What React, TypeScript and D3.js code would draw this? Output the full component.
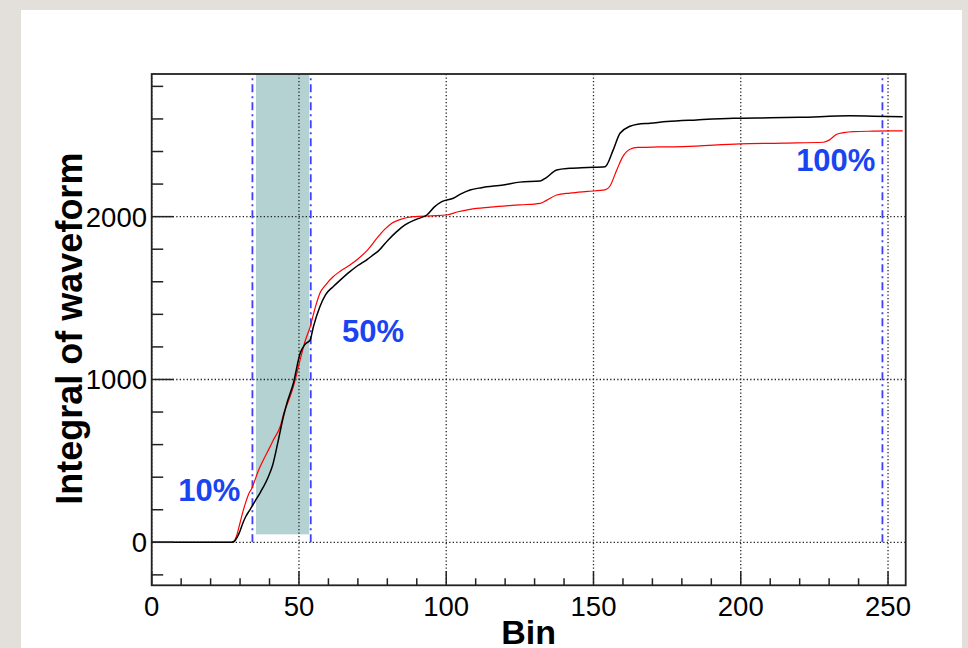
import React from "react";
import * as d3 from "d3";

// ---- data ----
const blackBins = [0, 10, 20, 27, 28, 29, 30, 31, 32, 33, 34, 35, 37, 39.6, 41, 43, 44.7, 46, 48.1, 50.4, 52, 53.8, 54.9, 57.1, 59, 61.6, 64, 67.3, 70, 73, 75.2, 77, 80.3, 83, 86, 90, 93.4, 96, 98.5, 102.4, 105, 108.1, 112, 119.4, 125, 131.9, 134, 137.5, 142, 148, 153.9, 156.7, 159, 162.4, 165, 169.2, 174.9, 185, 197.5, 210, 220, 237, 245, 255];
const blackValues = [0, 0, 0, 0, 5, 30, 70, 120, 160, 190, 219, 250, 310, 403, 470, 628, 771, 860, 977, 1161, 1215, 1243, 1324, 1447, 1520, 1570, 1610, 1662, 1700, 1735, 1765, 1790, 1857, 1905, 1949, 1985, 2010, 2060, 2092, 2113, 2140, 2164, 2178, 2195, 2212, 2219, 2240, 2287, 2297, 2302, 2307, 2410, 2512, 2555, 2568, 2574, 2584, 2594, 2604, 2607, 2610, 2619, 2617, 2614];

const redBins = [0, 10, 20, 27, 28, 29, 30, 31, 32, 33, 34, 35, 36, 37.9, 40, 41.3, 43.6, 45, 46.5, 48.1, 50.4, 52, 53.8, 55.5, 57.1, 59, 61.6, 64, 67.3, 70, 73, 76.9, 79, 81.5, 84, 88.8, 95, 100.2, 104, 108.1, 115, 125, 131.9, 134, 137.5, 142, 148, 153.9, 155.5, 157.9, 160, 162.4, 165, 172, 180.5, 199.8, 215, 228, 230, 232.6, 235, 238.2, 245, 255];
const redValues = [0, 0, 0, 0, 8, 50, 120, 190, 250, 300, 332, 380, 430, 505, 580, 628, 710, 800, 870, 956, 1120, 1230, 1324, 1440, 1530, 1580, 1631, 1665, 1703, 1740, 1790, 1877, 1920, 1960, 1980, 2000, 2005, 2010, 2030, 2045, 2058, 2072, 2082, 2100, 2133, 2145, 2155, 2164, 2185, 2287, 2370, 2414, 2425, 2428, 2430, 2447, 2452, 2457, 2470, 2506, 2516, 2522, 2525, 2527];

const xTicks = [0, 50, 100, 150, 200, 250];
const yTicks = [0, 1000, 2000];
const markerBins = [34.2, 54, 248.1];
const bandRange = [35.4, 53.5];
const bandBottom = 49;
const percentLabels = ["10%", "50%", "100%"];
const percentBins = [9.0, 64.6, 218.8];
const percentValues = [255, 1233, 2281];

const xDomain = [0, 256];
const yDomain = [-264, 2876];

export default function App() {
  const W = 968, H = 648;
  const left = 151.7, right = 905.7, top = 74, bottom = 585.3;
  const x = d3.scaleLinear().domain(xDomain).range([left, right]);
  const y = d3.scaleLinear().domain(yDomain).range([bottom, top]);

  const line = d3
    .line<[number, number]>()
    .x((d) => x(d[0]))
    .y((d) => y(d[1]))
    .curve(d3.curveMonotoneX);

  const blackPts = blackBins.map((b, i) => [b, blackValues[i]] as [number, number]);
  const redPts = redBins.map((b, i) => [b, redValues[i]] as [number, number]);

  const xMinor = d3.range(0, 257, 10);
  const yMinor = d3.range(-200, 2877, 200);

  const font = "'Liberation Sans', Arial, Helvetica, sans-serif";

  return (
    <svg
      width={W}
      height={H}
      style={{ position: "absolute", left: 0, top: 0, display: "block" }}
    >
      <rect x={0} y={0} width={W} height={H} fill="#e3e0dc" />
      <rect x={21} y={10} width={941} height={H} fill="#ffffff" />

      {/* shaded band */}
      <rect
        x={x(bandRange[0])}
        y={top}
        width={x(bandRange[1]) - x(bandRange[0])}
        height={y(bandBottom) - top}
        fill="#b4d2d1"
      />

      {/* grid */}
      {xTicks.map((t) => (
        <line
          key={"gx" + t}
          x1={x(t)}
          x2={x(t)}
          y1={top}
          y2={bottom}
          stroke="#222"
          strokeWidth={1.3}
          strokeDasharray="1.3,2.2"
        />
      ))}
      {yTicks.map((t) => (
        <line
          key={"gy" + t}
          x1={left}
          x2={right}
          y1={y(t)}
          y2={y(t)}
          stroke="#222"
          strokeWidth={1.3}
          strokeDasharray="1.3,2.2"
        />
      ))}

      {/* marker lines */}
      {markerBins.map((b) => (
        <line
          key={"m" + b}
          x1={x(b)}
          x2={x(b)}
          y1={y(0)}
          y2={top}
          stroke="#3f3fff"
          strokeWidth={1.8}
          strokeDasharray="8,4,2,4"
        />
      ))}

      {/* curves */}
      <path d={line(redPts) || ""} fill="none" stroke="#ff0000" strokeWidth={1.2} />
      <path d={line(blackPts) || ""} fill="none" stroke="#000000" strokeWidth={1.5} />

      {/* frame */}
      <rect
        x={left}
        y={top}
        width={right - left}
        height={bottom - top}
        fill="none"
        stroke="#222"
        strokeWidth={1.8}
      />

      {/* x ticks */}
      {xMinor.map((t) => (
        <line
          key={"xt" + t}
          x1={x(t)}
          x2={x(t)}
          y1={bottom}
          y2={bottom - (t % 50 === 0 ? 14 : 7)}
          stroke="#222"
          strokeWidth={1.5}
        />
      ))}
      {/* y ticks */}
      {yMinor.map((t) => (
        <line
          key={"yt" + t}
          x1={left}
          x2={left + (t % 1000 === 0 ? 22 : 11.5)}
          y1={y(t)}
          y2={y(t)}
          stroke="#222"
          strokeWidth={1.5}
        />
      ))}

      {/* tick labels */}
      {xTicks.map((t) => (
        <text
          key={"xl" + t}
          x={x(t)}
          y={616}
          textAnchor="middle"
          fontFamily={font}
          fontSize={27.5}
          fill="#000"
        >
          {t}
        </text>
      ))}
      {yTicks.map((t) => (
        <text
          key={"yl" + t}
          x={147}
          y={y(t) + 10}
          textAnchor="end"
          fontFamily={font}
          fontSize={27.5}
          fill="#000"
        >
          {t}
        </text>
      ))}

      {/* axis titles */}
      <text
        x={(left + right) / 2}
        y={644}
        textAnchor="middle"
        fontFamily={font}
        fontWeight="bold"
        fontSize={34}
        fill="#000"
      >
        Bin
      </text>
      <text
        transform={`translate(82,${(top + bottom) / 2 - 1}) rotate(-90)`}
        textAnchor="middle"
        fontFamily={font}
        fontWeight="bold"
        fontSize={36}
        fill="#000"
      >
        Integral of waveform
      </text>

      {/* percent labels */}
      {percentLabels.map((s, i) => (
        <text
          key={s}
          x={x(percentBins[i])}
          y={y(percentValues[i])}
          fontFamily={font}
          fontWeight="bold"
          fontSize={31}
          fill="#1a44f2"
        >
          {s}
        </text>
      ))}
    </svg>
  );
}
